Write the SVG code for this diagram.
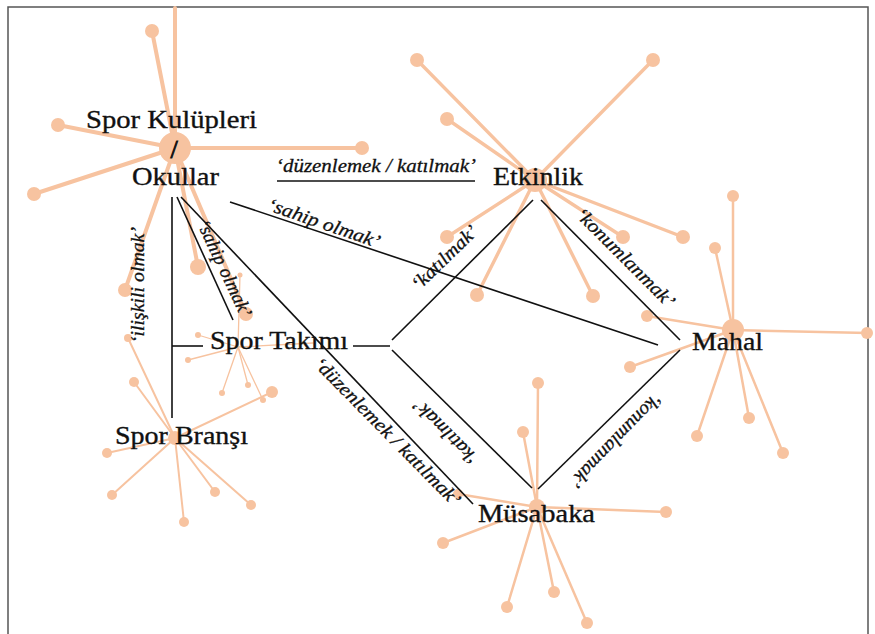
<svg xmlns="http://www.w3.org/2000/svg" width="875" height="634" viewBox="0 0 875 634">
<style>
.frame{fill:none;stroke:#555;stroke-width:1.5}
.sp{stroke:#f7c3a0;stroke-linecap:round;fill:none}
.dot{fill:#f7c3a0}
.w4{stroke-width:4}
.w3{stroke-width:3.4}
.w2{stroke-width:2.5}
.w15{stroke-width:2}
.w1{stroke-width:1.3}
.c{stroke:#111;stroke-width:1.6;fill:none}
.n{font-family:"Liberation Serif","DejaVu Serif",serif;font-size:26px;fill:#111;stroke:#111;stroke-width:0.35}
.e{font-family:"Liberation Serif","DejaVu Serif",serif;font-size:19px;font-style:italic;fill:#111;stroke:#111;stroke-width:0.3;text-anchor:middle}
</style>
<rect width="875" height="634" fill="#fff"/>
<rect class="frame" x="8" y="7" width="860" height="640"/>

<g id="n-spor-kulupleri-okullar">
  <g class="sp w4">
    <line x1="175" y1="148" x2="175" y2="8"/>
    <line x1="175" y1="148" x2="152" y2="31"/>
    <line x1="175" y1="148" x2="58" y2="125"/>
    <line x1="175" y1="148" x2="34" y2="194"/>
    <line x1="175" y1="148" x2="362" y2="148"/>
    <line x1="175" y1="148" x2="125" y2="290"/>
    <line x1="175" y1="148" x2="198" y2="267"/>
    <line x1="175" y1="148" x2="246" y2="314"/>
  </g>
  <circle class="dot" cx="175" cy="148" r="16"/>
  <circle class="dot" cx="152" cy="31" r="7"/>
  <circle class="dot" cx="58" cy="125" r="7"/>
  <circle class="dot" cx="34" cy="194" r="7"/>
  <circle class="dot" cx="362" cy="148" r="7"/>
  <circle class="dot" cx="125" cy="290" r="7"/>
  <circle class="dot" cx="198" cy="267" r="8"/>
  <circle class="dot" cx="246" cy="314" r="7"/>
  <text class="n" x="86" y="128" textLength="171" lengthAdjust="spacingAndGlyphs">Spor Kulüpleri</text>
  <text class="n" x="174" y="158" text-anchor="middle" style="stroke-width:0.9">/</text>
  <text class="n" x="132" y="185" textLength="87" lengthAdjust="spacingAndGlyphs">Okullar</text>
</g>

<g id="n-etkinlik">
  <g class="sp w3">
    <line x1="535" y1="180" x2="417" y2="60"/>
    <line x1="535" y1="180" x2="447" y2="119"/>
    <line x1="535" y1="180" x2="653" y2="60"/>
    <line x1="535" y1="180" x2="447" y2="237"/>
    <line x1="535" y1="180" x2="477" y2="295"/>
    <line x1="535" y1="180" x2="593" y2="296"/>
    <line x1="535" y1="180" x2="623" y2="237"/>
    <line x1="535" y1="180" x2="683" y2="237"/>
  </g>
  <circle class="dot" cx="535" cy="180" r="12"/>
  <circle class="dot" cx="417" cy="60" r="7"/>
  <circle class="dot" cx="447" cy="119" r="7"/>
  <circle class="dot" cx="653" cy="60" r="7"/>
  <circle class="dot" cx="447" cy="237" r="7"/>
  <circle class="dot" cx="477" cy="295" r="7"/>
  <circle class="dot" cx="593" cy="296" r="7"/>
  <circle class="dot" cx="623" cy="237" r="7"/>
  <circle class="dot" cx="683" cy="237" r="7"/>
  <text class="n" x="493" y="185" textLength="90" lengthAdjust="spacingAndGlyphs">Etkinlik</text>
</g>

<g id="n-mahal">
  <g class="sp w2">
    <line x1="733" y1="330" x2="733" y2="196"/>
    <line x1="733" y1="330" x2="715" y2="248"/>
    <line x1="733" y1="330" x2="868" y2="333"/>
    <line x1="733" y1="330" x2="647" y2="316"/>
    <line x1="733" y1="330" x2="630" y2="367"/>
    <line x1="733" y1="330" x2="697" y2="436"/>
    <line x1="733" y1="330" x2="749" y2="418"/>
    <line x1="733" y1="330" x2="783" y2="453"/>
  </g>
  <circle class="dot" cx="733" cy="330" r="11"/>
  <circle class="dot" cx="733" cy="196" r="6"/>
  <circle class="dot" cx="715" cy="248" r="6"/>
  <circle class="dot" cx="867" cy="333" r="6"/>
  <circle class="dot" cx="647" cy="316" r="6"/>
  <circle class="dot" cx="630" cy="367" r="6"/>
  <circle class="dot" cx="697" cy="436" r="6"/>
  <circle class="dot" cx="749" cy="418" r="6"/>
  <circle class="dot" cx="783" cy="453" r="6"/>
  <text class="n" x="692" y="350" textLength="71" lengthAdjust="spacingAndGlyphs">Mahal</text>
</g>

<g id="n-musabaka">
  <g class="sp w2">
    <line x1="537" y1="507" x2="538" y2="383"/>
    <line x1="537" y1="507" x2="523" y2="432"/>
    <line x1="537" y1="507" x2="666" y2="512"/>
    <line x1="537" y1="507" x2="443" y2="543"/>
    <line x1="537" y1="507" x2="507" y2="607"/>
    <line x1="537" y1="507" x2="554" y2="592"/>
    <line x1="537" y1="507" x2="587" y2="623"/>
    <line x1="537" y1="507" x2="458" y2="494"/>
  </g>
  <circle class="dot" cx="537" cy="507" r="8"/>
  <circle class="dot" cx="538" cy="383" r="6"/>
  <circle class="dot" cx="523" cy="432" r="6"/>
  <circle class="dot" cx="666" cy="512" r="6"/>
  <circle class="dot" cx="443" cy="543" r="6"/>
  <circle class="dot" cx="507" cy="607" r="6"/>
  <circle class="dot" cx="554" cy="592" r="6"/>
  <circle class="dot" cx="587" cy="623" r="6"/>
  <circle class="dot" cx="458" cy="494" r="5"/>
  <text class="n" x="478" y="522" textLength="117" lengthAdjust="spacingAndGlyphs">Müsabaka</text>
</g>

<g id="n-spor-bransi">
  <g class="sp w15">
    <line x1="175" y1="438" x2="107" y2="453"/>
    <line x1="175" y1="438" x2="112" y2="495"/>
    <line x1="175" y1="438" x2="184" y2="522"/>
    <line x1="175" y1="438" x2="215" y2="492"/>
    <line x1="175" y1="438" x2="251" y2="505"/>
    <line x1="175" y1="438" x2="272" y2="392"/>
    <line x1="175" y1="438" x2="134" y2="382"/>
    <line x1="175" y1="438" x2="128" y2="338"/>
  </g>
  <circle class="dot" cx="175" cy="438" r="7"/>
  <circle class="dot" cx="107" cy="453" r="5"/>
  <circle class="dot" cx="112" cy="495" r="5"/>
  <circle class="dot" cx="184" cy="522" r="5"/>
  <circle class="dot" cx="215" cy="492" r="5"/>
  <circle class="dot" cx="251" cy="505" r="5"/>
  <circle class="dot" cx="272" cy="392" r="6"/>
  <circle class="dot" cx="134" cy="382" r="5"/>
  <circle class="dot" cx="128" cy="338" r="4"/>
  <text class="n" x="115" y="444" textLength="133" lengthAdjust="spacingAndGlyphs">Spor Branşı</text>
</g>

<g id="n-spor-takimi">
  <g class="sp w1">
    <line x1="238" y1="347" x2="240" y2="275"/>
    <line x1="238" y1="347" x2="198" y2="335"/>
    <line x1="238" y1="347" x2="188" y2="360"/>
    <line x1="238" y1="347" x2="222" y2="393"/>
    <line x1="238" y1="347" x2="248" y2="385"/>
    <line x1="238" y1="347" x2="263" y2="400"/>
    <line x1="238" y1="347" x2="313" y2="343"/>
  </g>
  <circle class="dot" cx="240" cy="275" r="2.5"/>
  <circle class="dot" cx="198" cy="335" r="3"/>
  <circle class="dot" cx="188" cy="360" r="3"/>
  <circle class="dot" cx="222" cy="393" r="3"/>
  <circle class="dot" cx="248" cy="385" r="3"/>
  <circle class="dot" cx="263" cy="400" r="3"/>
  <text class="n" x="210" y="349" textLength="138" lengthAdjust="spacingAndGlyphs">Spor Takımı</text>
</g>

<g id="connectors">
  <line class="c" x1="277" y1="181" x2="475" y2="181"/>
  <line class="c" x1="230" y1="202" x2="658" y2="345"/>
  <line class="c" x1="177" y1="197" x2="233" y2="320"/>
  <line class="c" x1="181" y1="197" x2="473" y2="504"/>
  <line class="c" x1="172" y1="197" x2="172" y2="418"/>
  <line class="c" x1="172" y1="346" x2="203" y2="346"/>
  <line class="c" x1="353" y1="346" x2="390" y2="346"/>
  <line class="c" x1="533" y1="200" x2="392" y2="340"/>
  <line class="c" x1="392" y1="350" x2="532" y2="488"/>
  <line class="c" x1="541" y1="200" x2="680" y2="340"/>
  <line class="c" x1="680" y1="350" x2="538" y2="489"/>
</g>

<g id="connector-labels">
  <text class="e" x="376" y="172" textLength="200" lengthAdjust="spacingAndGlyphs">‘düzenlemek / katılmak’</text>
  <text class="e" transform="translate(322 229) rotate(19)" textLength="118" lengthAdjust="spacingAndGlyphs">‘sahip olmak’</text>
  <text class="e" transform="translate(219 271) rotate(65)" textLength="105" lengthAdjust="spacingAndGlyphs">‘sahip olmak’</text>
  <text class="e" transform="translate(144 285) rotate(-90)" textLength="116" lengthAdjust="spacingAndGlyphs">‘ilişkili olmak’</text>
  <text class="e" transform="translate(449 262) rotate(-44)" textLength="84" lengthAdjust="spacingAndGlyphs">‘katılmak’</text>
  <text class="e" transform="translate(621 262) rotate(45)" textLength="132" lengthAdjust="spacingAndGlyphs">‘konumlanmak’</text>
  <text class="e" transform="translate(383 436) rotate(45.4)" textLength="200" lengthAdjust="spacingAndGlyphs">‘düzenlemek / katılmak’</text>
  <text class="e" transform="translate(450 428) rotate(225)" textLength="84" lengthAdjust="spacingAndGlyphs">‘katılmak’</text>
  <text class="e" transform="translate(612 436) rotate(134)" textLength="124" lengthAdjust="spacingAndGlyphs">‘konumlanmak’</text>
</g>
</svg>
